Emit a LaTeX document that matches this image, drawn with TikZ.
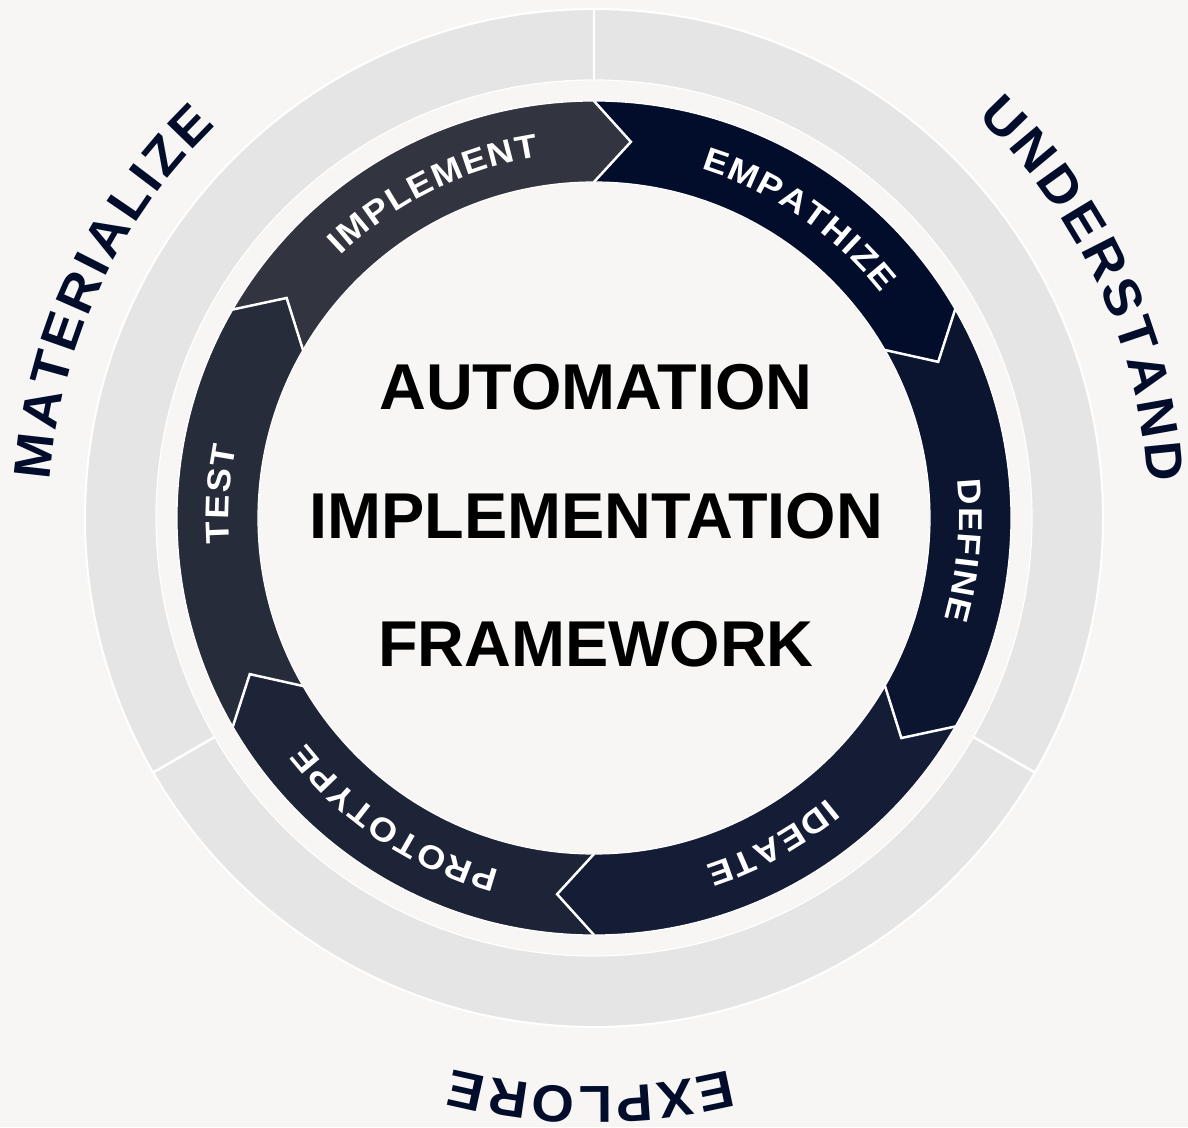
\documentclass[tikz,border=0pt]{standalone}
\usepackage{fontspec}
\setmainfont{Liberation Sans}
\newfontfamily\segfam{Liberation Sans}[FakeStretch=1.1]
\newfontfamily\outfam{Liberation Sans}[FakeStretch=1.05]
\newcommand\segfont{\segfam\bfseries\fontsize{33}{33}\selectfont}
\newcommand\outfont{\outfam\bfseries\fontsize{52}{52}\selectfont}
\newcommand\centfont{\bfseries\fontsize{64.8}{70}\selectfont}
\definecolor{bg}{HTML}{F7F6F4}
\definecolor{ringgray}{HTML}{E5E5E5}
\definecolor{navy}{HTML}{010D2A}
\definecolor{sA}{HTML}{010D2A}
\definecolor{sB}{HTML}{0B1530}
\definecolor{sC}{HTML}{151C35}
\definecolor{sD}{HTML}{1E2437}
\definecolor{sE}{HTML}{272C3B}
\definecolor{sF}{HTML}{32353F}
\def\Ro{417pt}
\def\Ri{336pt}
\def\Rm{378pt}
\def\dl{5.6}
\newlength\arcw
% computed outside the picture: #1 id, #2 baseline radius, #3 centre angle, #4 tracking, #5 font, #6 letters
\newcommand\PrepArc[6]{%
  \gdef\arctot{0}%
  \foreach \ch in {#6}{%
    \settowidth{\arcw}{#5\ch}%
    \pgfmathsetmacro\arctmp{\arctot+\arcw+#4}%
    \global\let\arctot\arctmp
  }%
  \pgfmathsetmacro\arctmp{\arctot-#4}\global\let\arctot\arctmp
  \gdef\arcpos{0}%
  \foreach \ch [count=\k] in {#6}{%
    \settowidth{\arcw}{#5\ch}%
    \pgfmathsetmacro\arcang{#3+(\arctot/2-\arcpos-\arcw/2)/(#2)*180/pi}%
    \expandafter\xdef\csname arcang@#1@\k\endcsname{\arcang}%
    \pgfmathsetmacro\arctmp{\arcpos+\arcw+#4}%
    \global\let\arcpos\arctmp
  }%
}
% placed inside the picture: #1 id, #2 radius, #3 font, #4 colour, #5 letters
\newcommand\PlaceArc[5]{%
  \foreach \ch [count=\k] in {#5}{%
    \edef\arcang{\csname arcang@#1@\k\endcsname}%
    \node[arcletter, text=#4, rotate=\arcang-90] (#1-\k) at (\arcang:#2pt) {#3\ch};
  }%
}
% segment from angle #1 (ccw end) to #2 (cw end), colour #3
\newcommand\Seg[3]{%
  \fill[#3] (#1:\Ro) arc[start angle=#1, end angle=#2, radius=\Ro]
    -- (#2-\dl:\Rm) -- (#2:\Ri)
    arc[start angle=#2, end angle=#1, radius=\Ri]
    -- (#1-\dl:\Rm) -- cycle;
}
\begin{document}%
\PrepArc{emp}{365}{55.5}{1.5}{\segfont}{E,M,P,A,T,H,I,Z,E}%
\PrepArc{def}{365}{-5}{1.5}{\segfont}{D,E,F,I,N,E}%
\PrepArc{ide}{365}{-61.2}{1.5}{\segfont}{I,D,E,A,T,E}%
\PrepArc{pro}{365}{-123.5}{1.5}{\segfont}{P,R,O,T,O,T,Y,P,E}%
\PrepArc{tes}{365}{176.3}{1.5}{\segfont}{T,E,S,T}%
\PrepArc{imp}{365}{116.3}{1.5}{\segfont}{I,M,P,L,E,M,E,N,T}%
\PrepArc{und}{555}{25}{3.5}{\outfont}{U,N,D,E,R,S,T,A,N,D}%
\PrepArc{exp}{569}{-90.3}{3.2}{\outfont}{E,X,P,L,O,R,E}%
\PrepArc{mat}{545}{155}{3.3}{\outfont}{M,A,T,E,R,I,A,L,I,Z,E}%
\begin{tikzpicture}[x=1pt,y=1pt,
  arcletter/.style={inner sep=0pt, outer sep=0pt, anchor=base},
  chev/.style={white, line width=2.5pt},
  centre/.style={inner sep=0pt, anchor=base, font=\centfont, text=black}]
\useasboundingbox (-594,-609) rectangle (594,518);
\fill[bg] (-594,-609) rectangle (594,518);
% outer gray ring
\fill[ringgray, even odd rule] (0,0) circle[radius=509pt] (0,0) circle[radius=438pt];
\draw[white, line width=2pt] (0,0) circle[radius=509pt];
\draw[white, line width=1.2pt] (0,0) circle[radius=438pt];
\foreach \a in {90,210,330} \draw[white, line width=2.5pt] (\a:438pt) -- (\a:509pt);
% dark segments
\Seg{90}{30}{sA}
\Seg{30}{-30}{sB}
\Seg{-30}{-90}{sC}
\Seg{-90}{-150}{sD}
\Seg{-150}{-210}{sE}
\Seg{150}{90}{sF}
\draw[white, line width=1.2pt] (0,0) circle[radius=\Ro];
\draw[white, line width=1.2pt] (0,0) circle[radius=\Ri];
\foreach \b in {90,30,-30,-90,-150,-210}
  \draw[chev] (\b:\Ro) -- (\b-\dl:\Rm) -- (\b:\Ri);
% segment labels
\PlaceArc{emp}{365}{\segfont}{white}{E,M,P,A,T,H,I,Z,E}
\PlaceArc{def}{365}{\segfont}{white}{D,E,F,I,N,E}
\PlaceArc{ide}{365}{\segfont}{white}{I,D,E,A,T,E}
\PlaceArc{pro}{365}{\segfont}{white}{P,R,O,T,O,T,Y,P,E}
\PlaceArc{tes}{365}{\segfont}{white}{T,E,S,T}
\PlaceArc{imp}{365}{\segfont}{white}{I,M,P,L,E,M,E,N,T}
% outer labels
\PlaceArc{und}{555}{\outfont}{navy}{U,N,D,E,R,S,T,A,N,D}
\PlaceArc{exp}{569}{\outfont}{navy}{E,X,P,L,O,R,E}
\PlaceArc{mat}{545}{\outfont}{navy}{M,A,T,E,R,I,A,L,I,Z,E}
% centre title
\node[centre] (title1) at (2,108) {AUTOMATION};
\node[centre] (title2) at (2,-20) {IMPLEMENTATION};
\node[centre] (title3) at (2,-148) {FRAMEWORK};
\end{tikzpicture}%
\end{document}
